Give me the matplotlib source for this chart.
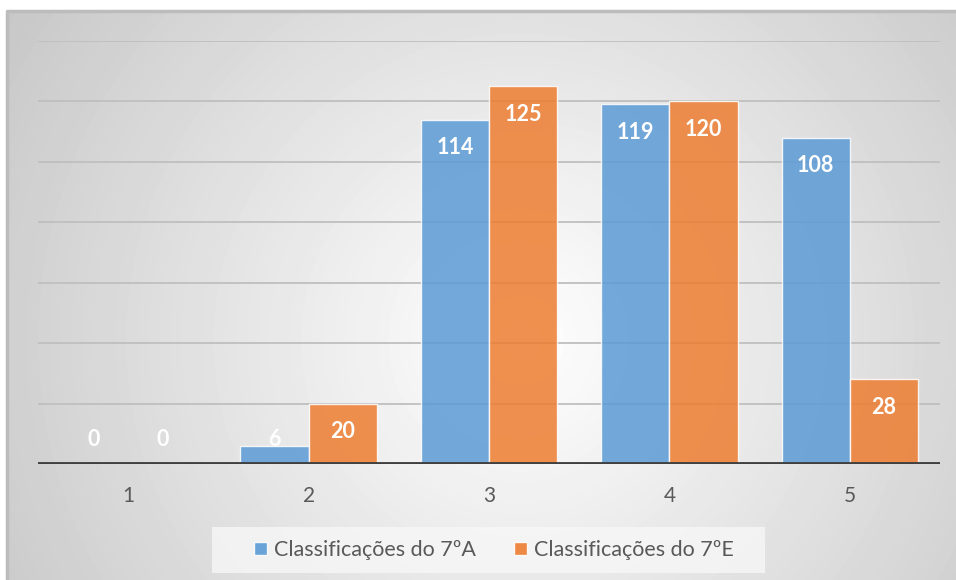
import numpy as np
import matplotlib
matplotlib.use("Agg")
import matplotlib.pyplot as plt
from matplotlib.patches import Rectangle

plt.rcParams['font.family'] = ['Lato', 'DejaVu Sans']

# data
categories = ["1", "2", "3", "4", "5"]
turma_a = [0, 6, 114, 119, 108]
turma_e = [0, 20, 125, 120, 28]
series_names = ["Classificações do 7ºA", "Classificações do 7ºE"]

blue = "#5B9BD5"
orange = "#ED7D31"
text_grey = "#595959"

W, H = 956, 580
fig = plt.figure(figsize=(W / 100, H / 100), dpi=100)
fig.patch.set_facecolor("white")

# background panel with radial gradient
x0, y0 = 7, 11
bg = fig.add_axes([x0 / W, 0, 1 - x0 / W, 1 - y0 / H], zorder=-5)
yy, xx = np.mgrid[y0:H, x0:W]
dist = np.sqrt((xx - 520) ** 2 + (yy - 340) ** 2) / 560
shade = np.clip(1 - 0.2 * dist, 0.78, 1.0)
bg.imshow(shade, cmap="gray", vmin=0, vmax=1, aspect="auto",
          extent=[0, 1, 0, 1], interpolation="bilinear")
bg.set_xlim(0, 1)
bg.set_ylim(0, 1)
bg.axis("off")
bg.plot([0, 0, 1], [0, 1, 1], color="#bcbcbc", lw=2.5, clip_on=False)

# legend box (light panel behind the legend)
fig.patches.append(Rectangle((212 / W, 1 - 573 / H), (765 - 212) / W, 46 / H,
                             transform=fig.transFigure, facecolor="#f7f7f7",
                             alpha=0.8, edgecolor="none", zorder=1))

# main chart
ax = fig.add_axes([38 / W, 1 - 464 / H, (940 - 38) / W, (464 - 41) / H])
ax.patch.set_alpha(0)
x = np.arange(1, len(categories) + 1)
bw = 0.378

ax.bar(x - bw / 2, turma_a, bw, color=blue, alpha=0.85,
       edgecolor=(1, 1, 1, 0.6), linewidth=1, label=series_names[0], zorder=2)
ax.bar(x + bw / 2, turma_e, bw, color=orange, alpha=0.85,
       edgecolor=(1, 1, 1, 0.6), linewidth=1, label=series_names[1], zorder=2)

ax.set_xlim(0.5, 5.5)
ax.set_ylim(0, 140)
ax.set_yticks(np.arange(0, 141, 20))
ax.yaxis.grid(True, color="#bfbfbf", lw=1.3)
ax.set_axisbelow(True)
ax.tick_params(axis="y", left=False, labelleft=False)
ax.set_xticks(x)
ax.set_xticklabels(categories)
ax.tick_params(axis="x", length=0, pad=16, labelsize=15, labelcolor=text_grey)
for s in ax.spines.values():
    s.set_visible(False)
ax.axhline(0, color="#404040", lw=3.5, zorder=4)

# value labels inside the top of each bar
for xs, vals in [(x - bw / 2, turma_a), (x + bw / 2, turma_e)]:
    for xi, v in zip(xs, vals):
        ax.text(xi, max(v - 9.3, 8), str(v), ha="center", va="center",
                color="white", fontsize=15.5, fontweight="bold", zorder=5)

leg = fig.legend(loc="center", bbox_to_anchor=(494 / W, 1 - 550 / H), ncol=2,
                 frameon=False, fontsize=15.5, labelcolor=text_grey,
                 handlelength=0.6, handleheight=0.6, handletextpad=0.3,
                 columnspacing=1.8, borderaxespad=0)
for h in leg.legend_handles:
    h.set_alpha(0.9)
leg.set_zorder(3)

fig.savefig("out.png", dpi=100)
